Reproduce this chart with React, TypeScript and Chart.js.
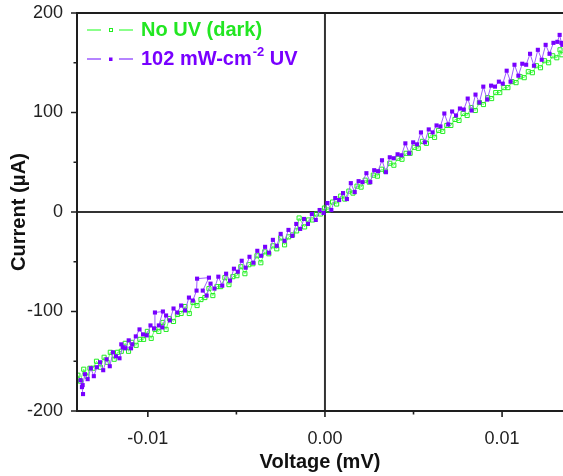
import React, { useEffect, useRef } from 'react';
import { Chart, registerables } from 'chart.js';

Chart.register(...registerables);

// ---- Data (Voltage in mV, Current in µA) ----
const darkVoltage = [
  -0.01395, -0.01381, -0.01362, -0.01344, -0.01327, -0.01309, -0.0129, -0.01268, -0.01247, -0.0123,
  -0.01212, -0.0119, -0.01171, -0.0115, -0.01128, -0.01109, -0.0109, -0.01066, -0.01045, -0.01024,
  -0.01003, -0.00981, -0.0096, -0.00938, -0.00915, -0.00897, -0.00878, -0.00855, -0.00833, -0.00812,
  -0.0079, -0.00766, -0.00745, -0.00722, -0.007, -0.00678, -0.00655, -0.00633, -0.0061, -0.00589,
  -0.00565, -0.00542, -0.0052, -0.00497, -0.00475, -0.00452, -0.0043, -0.00407, -0.00384, -0.00362,
  -0.0034, -0.00317, -0.00294, -0.00272, -0.0025, -0.00228, -0.00205, -0.00183, -0.0016, -0.00146,
  -0.00115, -0.00093, -0.0007, -0.00048, -0.00025, -0.00003, 0.0002, 0.00043, 0.00066, 0.00089,
  0.00112, 0.00135, 0.00158, 0.00181, 0.00204, 0.00227, 0.0025, 0.00273, 0.00296, 0.00319,
  0.00342, 0.00366, 0.00389, 0.00412, 0.00435, 0.00458, 0.00481, 0.00504, 0.00527, 0.0055,
  0.00573, 0.00596, 0.00619, 0.00642, 0.00665, 0.00688, 0.00711, 0.00734, 0.00757, 0.0078,
  0.00803, 0.00826, 0.00849, 0.00872, 0.00895, 0.00918, 0.00941, 0.00964, 0.00987, 0.0101,
  0.01033, 0.01056, 0.01079, 0.01102, 0.01125, 0.01148, 0.01171, 0.01194, 0.01217, 0.0124,
  0.01263, 0.01286, 0.01309, 0.01327, 0.01338,
];
const darkCurrent = [
  -164, -170, -158, -165, -157, -157, -150, -156, -146, -151,
  -141, -148, -141, -140, -132, -140, -131, -134, -128, -128,
  -120, -127, -118, -120, -111, -118, -107, -110, -103, -102,
  -95, -102, -91, -94, -88, -86, -77, -84, -75, -75,
  -66, -73, -65, -64, -55, -62, -53, -52, -44, -51,
  -40, -42, -34, -37, -26, -33, -25, -23, -19, -6,
  -15, -8, -8, -2, -2, 4, 2, 10, 8, 16,
  13, 21, 19, 26, 25, 32, 30, 37, 36, 43,
  41, 49, 47, 54, 53, 59, 59, 65, 64, 71,
  69, 77, 75, 82, 81, 87, 87, 93, 92, 99,
  97, 105, 102, 110, 108, 115, 114, 120, 120, 125,
  125, 131, 130, 136, 135, 141, 140, 147, 145, 152,
  150, 157, 155, 163, 158,
];

const uvVoltage = [
  -0.01366, -0.01372, -0.0138, -0.01368, -0.01355, -0.0134, -0.01322, -0.01305, -0.01288, -0.0127,
  -0.01252, -0.01233, -0.01215, -0.01197, -0.0118, -0.0116, -0.01142, -0.01095, -0.0115, -0.01128,
  -0.01108, -0.01088, -0.01068, -0.01047, -0.01027, -0.01006, -0.00985, -0.00965, -0.0096, -0.00915,
  -0.00938, -0.00918, -0.00897, -0.00876, -0.00855, -0.00834, -0.00812, -0.0079, -0.00768, -0.00746,
  -0.00725, -0.00722, -0.00655, -0.0069, -0.00668, -0.00646, -0.00624, -0.00602, -0.0058, -0.00558,
  -0.00536, -0.00514, -0.00492, -0.0047, -0.00448, -0.00426, -0.00404, -0.00382, -0.0036, -0.00338,
  -0.00316, -0.00294, -0.00272, -0.0025, -0.00228, -0.00206, -0.00184, -0.00162, -0.0014, -0.00118,
  -0.00096, -0.00074, -0.00052, -0.0003, -0.00008, 0.00014, 0.00036, 0.00058, 0.0008, 0.00102,
  0.00124, 0.00146, 0.00168, 0.0019, 0.00212, 0.00234, 0.00256, 0.00278, 0.003, 0.00322,
  0.00344, 0.00366, 0.00388, 0.0041, 0.00432, 0.00454, 0.00476, 0.00498, 0.0052, 0.00542,
  0.00564, 0.00586, 0.00608, 0.0063, 0.00652, 0.00674, 0.00696, 0.00718, 0.0074, 0.00762,
  0.00784, 0.00806, 0.00828, 0.0085, 0.00872, 0.00894, 0.00916, 0.00938, 0.0096, 0.00982,
  0.01004, 0.01026, 0.01048, 0.0107, 0.01092, 0.01114, 0.01136, 0.01158, 0.0118, 0.01202,
  0.01224, 0.01246, 0.01268, 0.0129, 0.01312, 0.01325, 0.01335, 0.0134,
];
const uvCurrent = [
  -183, -176, -169, -174, -163, -168, -157, -165, -156, -151,
  -159, -148, -155, -141, -145, -147, -136, -137, -133, -137,
  -129, -133, -125, -118, -123, -124, -114, -117, -101, -100,
  -114, -116, -104, -109, -97, -101, -94, -99, -86, -89,
  -79, -67, -66, -79, -84, -72, -77, -65, -74, -62,
  -69, -57, -60, -49, -56, -45, -51, -39, -44, -35,
  -41, -28, -34, -22, -29, -18, -24, -12, -17, -7,
  -12, -2, -8, 2, -1, 9, 2, 14, 12, 19,
  13, 29, 20, 31, 30, 39, 30, 42, 41, 52,
  40, 55, 54, 58, 57, 69, 59, 70, 68, 80,
  70, 83, 80, 87, 86, 99, 88, 101, 97, 104,
  103, 114, 102, 118, 110, 126, 113, 127, 126, 131,
  129, 142, 131, 148, 137, 149, 148, 159, 147, 163,
  153, 168, 159, 170, 171, 178, 170, 168,
];

const xMajorTicks = [-0.01, 0, 0.01];
const xMinorTicks = [-0.005, 0.005];
const yMajorTicks = [-200, -100, 0, 100, 200];
const yMinorTicks = [-150, -50, 50, 150];

const darkLabel = 'No UV (dark)';
const uvLabelMain = '102 mW-cm';
const uvLabelSup = '-2';
const uvLabelTail = ' UV';

const GREEN = '#22ee22';
const GREEN_LINE = '#66ff66';
const GREEN_TEXT = '#22e622';
const PURPLE = '#7800ff';
const PURPLE_LINE = '#9d5cff';
const AXIS = '#1e1e1e';
const FONT = '"Liberation Sans", Arial, sans-serif';

const decorPlugin = {
  id: 'decor',
  beforeDatasetsDraw(chart: any) {
    const { ctx, chartArea: a, scales } = chart;
    const x0 = scales.x.getPixelForValue(0);
    const y0 = scales.y.getPixelForValue(0);
    ctx.save();
    ctx.strokeStyle = '#333';
    ctx.lineWidth = 2;
    ctx.beginPath();
    ctx.moveTo(x0, a.top);
    ctx.lineTo(x0, a.bottom);
    ctx.moveTo(a.left, y0);
    ctx.lineTo(a.right, y0);
    ctx.stroke();
    ctx.restore();
  },
  afterDatasetsDraw(chart: any) {
    const { ctx, chartArea: a, scales } = chart;
    ctx.save();
    ctx.strokeStyle = AXIS;
    ctx.lineWidth = 2;
    ctx.beginPath();
    ctx.moveTo(a.left, a.top);
    ctx.lineTo(a.left, a.bottom + 1);
    ctx.moveTo(a.left - 1, a.bottom);
    ctx.lineTo(a.right, a.bottom);
    ctx.moveTo(a.left - 1, a.top);
    ctx.lineTo(a.right, a.top);
    ctx.stroke();

    ctx.lineWidth = 1.6;
    ctx.beginPath();
    yMajorTicks.forEach((v) => {
      const y = scales.y.getPixelForValue(v);
      ctx.moveTo(a.left - 6, y);
      ctx.lineTo(a.left, y);
    });
    yMinorTicks.forEach((v) => {
      const y = scales.y.getPixelForValue(v);
      ctx.moveTo(a.left - 3.5, y);
      ctx.lineTo(a.left, y);
    });
    xMajorTicks.forEach((v) => {
      const x = scales.x.getPixelForValue(v);
      ctx.moveTo(x, a.bottom);
      ctx.lineTo(x, a.bottom + 6);
    });
    xMinorTicks.forEach((v) => {
      const x = scales.x.getPixelForValue(v);
      ctx.moveTo(x, a.bottom);
      ctx.lineTo(x, a.bottom + 3.5);
    });
    ctx.stroke();

    // legend
    const drawEntry = (y: number, lineColor: string, pointColor: string, filled: boolean) => {
      ctx.strokeStyle = lineColor;
      ctx.lineWidth = 1.5;
      ctx.beginPath();
      ctx.moveTo(87, y);
      ctx.lineTo(101, y);
      ctx.moveTo(119, y);
      ctx.lineTo(133, y);
      ctx.stroke();
      if (filled) {
        ctx.fillStyle = pointColor;
        ctx.fillRect(109, y - 1.5, 3.5, 3.5);
      } else {
        ctx.strokeStyle = pointColor;
        ctx.lineWidth = 1;
        ctx.strokeRect(109.5, y - 1.5, 3, 3);
      }
    };
    drawEntry(30, GREEN_LINE, GREEN, false);
    drawEntry(59, PURPLE_LINE, PURPLE, true);

    ctx.textBaseline = 'middle';
    ctx.textAlign = 'left';
    ctx.font = `bold 20px ${FONT}`;
    ctx.fillStyle = GREEN_TEXT;
    ctx.fillText(darkLabel, 141, 30);
    ctx.fillStyle = PURPLE;
    ctx.fillText(uvLabelMain, 141, 59);
    let x = 141 + ctx.measureText(uvLabelMain).width;
    ctx.font = `bold 13px ${FONT}`;
    ctx.fillText(uvLabelSup, x + 1, 52);
    x += ctx.measureText(uvLabelSup).width + 1;
    ctx.font = `bold 20px ${FONT}`;
    ctx.fillText(uvLabelTail, x, 59);
    ctx.restore();
  },
};

export default function App() {
  const canvasRef = useRef<HTMLCanvasElement | null>(null);

  useEffect(() => {
    const canvas = canvasRef.current;
    if (!canvas) return;
    const chart = new Chart(canvas, {
      type: 'scatter',
      data: {
        datasets: [
          {
            label: '102 mW-cm-2 UV',
            data: uvVoltage.map((v, i) => ({ x: v, y: uvCurrent[i] })),
            showLine: true,
            borderColor: PURPLE_LINE,
            borderWidth: 1,
            pointStyle: 'rect',
            pointRadius: 2.9,
            pointBorderWidth: 0,
            pointBackgroundColor: PURPLE,
            pointBorderColor: PURPLE,
          },
          {
            label: 'No UV (dark)',
            data: darkVoltage.map((v, i) => ({ x: v, y: darkCurrent[i] })),
            showLine: true,
            borderColor: GREEN_LINE,
            borderWidth: 1,
            pointStyle: 'rect',
            pointRadius: 2.9,
            pointBorderWidth: 1,
            pointBackgroundColor: 'rgba(0,0,0,0)',
            pointBorderColor: GREEN,
          },
        ],
      },
      options: {
        animation: false,
        responsive: false,
        events: [],
        layout: { autoPadding: false, padding: { top: 13, left: 0, right: 0, bottom: 0 } },
        plugins: { legend: { display: false }, tooltip: { enabled: false } },
        scales: {
          x: {
            type: 'linear',
            bounds: 'data',
            min: -0.014,
            max: 0.01344,
            grid: { display: false, drawTicks: false },
            border: { display: false },
            afterBuildTicks: (scale: any) => {
              scale.ticks = xMajorTicks.map((value) => ({ value }));
            },
            afterFit: (scale: any) => {
              scale.height = 65;
              scale.paddingLeft = 0;
              scale.paddingRight = 0;
            },
            ticks: {
              color: '#222',
              font: { family: FONT, size: 18 },
              padding: 17,
              maxRotation: 0,
              callback: (v: any) => Number(v).toFixed(2),
            },
            title: {
              display: true,
              text: 'Voltage (mV)',
              color: '#111',
              font: { family: FONT, size: 20, weight: 'bold' },
              padding: { top: 0, bottom: 2 },
            },
          },
          y: {
            type: 'linear',
            bounds: 'data',
            min: -200,
            max: 200,
            grid: { display: false, drawTicks: false },
            border: { display: false },
            afterBuildTicks: (scale: any) => {
              scale.ticks = yMajorTicks.map((value) => ({ value }));
            },
            afterFit: (scale: any) => {
              scale.width = 77;
              scale.paddingTop = 0;
              scale.paddingBottom = 0;
            },
            ticks: {
              color: '#222',
              font: { family: FONT, size: 18 },
              padding: 14,
              callback: (v: any) => String(v),
            },
            title: {
              display: true,
              text: 'Current (μA)',
              color: '#111',
              font: { family: FONT, size: 20, weight: 'bold' },
              padding: { top: 7, bottom: 0 },
            },
          },
        },
      },
      plugins: [decorPlugin],
    });
    return () => chart.destroy();
  }, []);

  return (
    <div style={{ position: 'fixed', left: 0, top: 0, width: 563, height: 476, background: '#fff' }}>
      <canvas ref={canvasRef} width={563} height={476} style={{ display: 'block' }} />
    </div>
  );
}
